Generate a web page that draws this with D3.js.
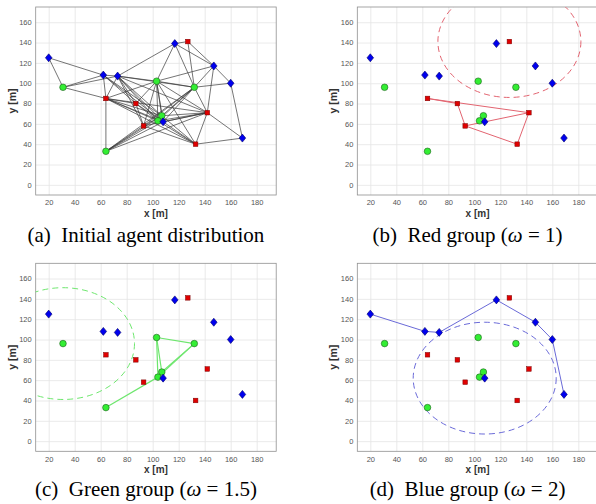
<!DOCTYPE html>
<html>
<head>
<meta charset="utf-8">
<script src="https://cdnjs.cloudflare.com/ajax/libs/d3/7.8.5/d3.min.js"></script>
<style>
  body { margin: 0; background: #fff; }
  #chart svg { display: block; }
</style>
</head>
<body>
<div id="chart"></div>
<script>
// agent positions [x, y] in metres
let blueAgents = [[20, 125], [62, 108], [73, 107], [117, 139], [147, 117], [160, 100], [169, 46], [108, 62]];
let greenAgents = [[31, 96], [103, 102], [132, 96], [107, 68], [104, 63], [64, 33]];
let redAgents = [[127, 141], [64, 85], [87, 80], [93, 58], [142, 71], [133, 40]];

// communication links of the initial distribution
let allLinks = [
  ['B1', 'B2'], ['B1', 'G1'],
  ['G1', 'B2'], ['G1', 'B3'], ['G1', 'R2'],
  ['B2', 'B3'], ['B2', 'R2'], ['B2', 'R3'], ['B2', 'G4'], ['B2', 'B8'],
  ['B3', 'B4'], ['B3', 'G2'], ['B3', 'R2'], ['B3', 'R3'], ['B3', 'R4'], ['B3', 'G4'], ['B3', 'G5'], ['B3', 'B8'], ['B3', 'R5'], ['B3', 'G3'],
  ['R2', 'G2'], ['R2', 'R3'], ['R2', 'G4'], ['R2', 'G5'], ['R2', 'B8'], ['R2', 'R5'], ['R2', 'G6'], ['R2', 'R6'],
  ['R3', 'G2'], ['R3', 'R4'], ['R3', 'G5'], ['R3', 'B8'],
  ['R4', 'G2'], ['R4', 'G4'], ['R4', 'G3'], ['R4', 'R5'], ['R4', 'R6'], ['R4', 'G6'],
  ['G6', 'G5'], ['G6', 'G4'], ['G6', 'B8'], ['G6', 'G3'], ['G6', 'R5'],
  ['G2', 'B4'], ['G2', 'G3'], ['G2', 'B5'], ['G2', 'G4'], ['G2', 'G5'], ['G2', 'B8'], ['G2', 'R5'], ['G2', 'R6'],
  ['G3', 'B4'], ['G3', 'R1'], ['G3', 'B5'], ['G3', 'B6'], ['G3', 'G4'], ['G3', 'G5'], ['G3', 'B8'], ['G3', 'R5'],
  ['B4', 'R1'], ['B4', 'B5'], ['R1', 'B5'],
  ['B5', 'B6'], ['B5', 'R5'], ['B6', 'B7'],
  ['B7', 'R5'], ['B7', 'R6'],
  ['R5', 'G4'], ['R5', 'G5'], ['R5', 'B8'], ['R5', 'R6'],
  ['R6', 'G5'], ['R6', 'B8'], ['R6', 'G4'],
  ['G4', 'G5'], ['G4', 'B8'], ['G5', 'B8']
];
let redLinks = [['R2', 'R3'], ['R2', 'R5'], ['R3', 'R4'], ['R4', 'R5'], ['R4', 'R6'], ['R5', 'R6']];
let greenLinks = [['G2', 'G3'], ['G2', 'G5'], ['G2', 'G4'], ['G3', 'G4'], ['G3', 'G5'], ['G4', 'G5'], ['G5', 'G6']];
let blueLinks = [['B1', 'B2'], ['B2', 'B3'], ['B3', 'B4'], ['B4', 'B5'], ['B5', 'B6'], ['B6', 'B7']];

// isolated agent of each group and its sensing range
let isolated = [null, 'R1', 'G1', 'B8'];
let rangeM = 55;

let xTicks = [20, 40, 60, 80, 100, 120, 140, 160, 180];
let yTicks = [0, 20, 40, 60, 80, 100, 120, 140, 160];
let labels = ['(a)', '(b)', '(c)', '(d)'];
let captions = ['Initial agent distribution', 'Red group', 'Green group', 'Blue group'];
let omegas = [null, '1', '1.5', '2'];

let w = 596;
let h = 504;
let pw = 240.5;
let ph = 188;

let nodes = {};
blueAgents.forEach((d, i) => nodes['B' + (i + 1)] = {x: d[0], y: d[1]});
greenAgents.forEach((d, i) => nodes['G' + (i + 1)] = {x: d[0], y: d[1]});
redAgents.forEach((d, i) => nodes['R' + (i + 1)] = {x: d[0], y: d[1]});

let xScale = d3.scaleLinear().domain([10, 195]).range([0, pw]);
let yScale = d3.scaleLinear().domain([-10, 175]).range([ph, 0]);

let panels = [
  {pos: [35.7, 7], links: allLinks, color: '#3a3a3a', width: 0.7, capY: 242},
  {pos: [357.3, 7], links: redLinks, color: '#e26470', width: 1, capY: 242},
  {pos: [35.7, 263.3], links: greenLinks, color: '#6ee66e', width: 1.2, capY: 496},
  {pos: [357.3, 263.3], links: blueLinks, color: '#6a6ad8', width: 1, capY: 496}
];

let svg = d3.select('#chart')
            .append('svg')
            .attr('width', w)
            .attr('height', h);

panels.forEach((p, k) => {
  let g = svg.append('g')
             .attr('transform', 'translate(' + p.pos[0] + ',' + p.pos[1] + ')');

  g.append('clipPath')
   .attr('id', 'clip' + k)
   .append('rect')
   .attr('width', pw)
   .attr('height', ph);

  g.append('rect')
   .attr('width', pw)
   .attr('height', ph)
   .attr('fill', '#fff');

  let xAxis = d3.axisBottom(xScale).tickValues(xTicks).tickSize(-ph).tickSizeOuter(0).tickPadding(5);
  let yAxis = d3.axisLeft(yScale).tickValues(yTicks).tickSize(-pw).tickSizeOuter(0).tickPadding(4);

  g.append('g')
   .attr('transform', 'translate(0,' + ph + ')')
   .call(xAxis);
  g.append('g')
   .call(yAxis);

  g.selectAll('.domain').remove();
  g.selectAll('.tick line').attr('stroke', '#e4e4e4').attr('stroke-width', 0.8);
  g.selectAll('.tick text')
   .attr('fill', '#555')
   .style('font-family', 'Liberation Sans, Arial, sans-serif')
   .style('font-size', '7.5px');

  g.append('rect')
   .attr('width', pw)
   .attr('height', ph)
   .attr('fill', 'none')
   .attr('stroke', '#8f8f8f')
   .attr('stroke-width', 0.8);

  g.append('text')
   .attr('x', pw / 2)
   .attr('y', ph + 22)
   .attr('text-anchor', 'middle')
   .style('font-family', 'Liberation Sans, Arial, sans-serif')
   .style('font-size', '10px')
   .style('font-weight', 'bold')
   .attr('fill', '#333')
   .text('x [m]');
  g.append('text')
   .attr('transform', 'translate(-20,' + (ph / 2) + ') rotate(-90)')
   .attr('text-anchor', 'middle')
   .style('font-family', 'Liberation Sans, Arial, sans-serif')
   .style('font-size', '10.5px')
   .style('font-weight', 'bold')
   .attr('fill', '#333')
   .text('y [m]');

  let plot = g.append('g').attr('clip-path', 'url(#clip' + k + ')');

  if (isolated[k]) {
    let c = nodes[isolated[k]];
    plot.append('ellipse')
        .attr('cx', xScale(c.x))
        .attr('cy', yScale(c.y))
        .attr('rx', xScale(c.x + rangeM) - xScale(c.x))
        .attr('ry', yScale(c.y) - yScale(c.y + rangeM))
        .attr('fill', 'none')
        .attr('stroke', p.color)
        .attr('stroke-width', 1)
        .attr('stroke-dasharray', '6,4');
  }

  plot.selectAll('line.link')
      .data(p.links)
      .enter()
      .append('line')
      .attr('class', 'link')
      .attr('x1', (d) => xScale(nodes[d[0]].x))
      .attr('y1', (d) => yScale(nodes[d[0]].y))
      .attr('x2', (d) => xScale(nodes[d[1]].x))
      .attr('y2', (d) => yScale(nodes[d[1]].y))
      .attr('stroke', p.color)
      .attr('stroke-width', p.width);

  plot.selectAll('rect.red')
      .data(redAgents)
      .enter()
      .append('rect')
      .attr('class', 'red')
      .attr('x', (d) => xScale(d[0]) - 2.3)
      .attr('y', (d) => yScale(d[1]) - 2.3)
      .attr('width', 4.6)
      .attr('height', 4.6)
      .attr('fill', '#e00000')
      .attr('stroke', '#7a0000')
      .attr('stroke-width', 0.5);

  plot.selectAll('circle.green')
      .data(greenAgents)
      .enter()
      .append('circle')
      .attr('class', 'green')
      .attr('cx', (d) => xScale(d[0]))
      .attr('cy', (d) => yScale(d[1]))
      .attr('r', 3.3)
      .attr('fill', '#33ee33')
      .attr('stroke', '#1f5f1f')
      .attr('stroke-width', 0.6);

  plot.selectAll('path.blue')
      .data(blueAgents)
      .enter()
      .append('path')
      .attr('class', 'blue')
      .attr('d', 'M0,-4L3.3,0L0,4L-3.3,0Z')
      .attr('transform', (d) => 'translate(' + xScale(d[0]) + ',' + yScale(d[1]) + ')')
      .attr('fill', '#0000ee')
      .attr('stroke', '#00006a')
      .attr('stroke-width', 0.6);

  let cap = svg.append('text')
               .attr('x', p.pos[0] + pw / 2 - 10)
               .attr('y', p.capY)
               .attr('text-anchor', 'middle')
               .style('font-family', 'Liberation Serif, Times New Roman, serif')
               .style('font-size', '21px')
               .attr('fill', '#000');
  cap.append('tspan').text(labels[k] + '\u2002' + captions[k]);
  if (omegas[k]) {
    cap.append('tspan').text(' (');
    cap.append('tspan').style('font-style', 'italic').text('\u03c9');
    cap.append('tspan').text(' = ' + omegas[k] + ')');
  }
});
</script>
</body>
</html>
